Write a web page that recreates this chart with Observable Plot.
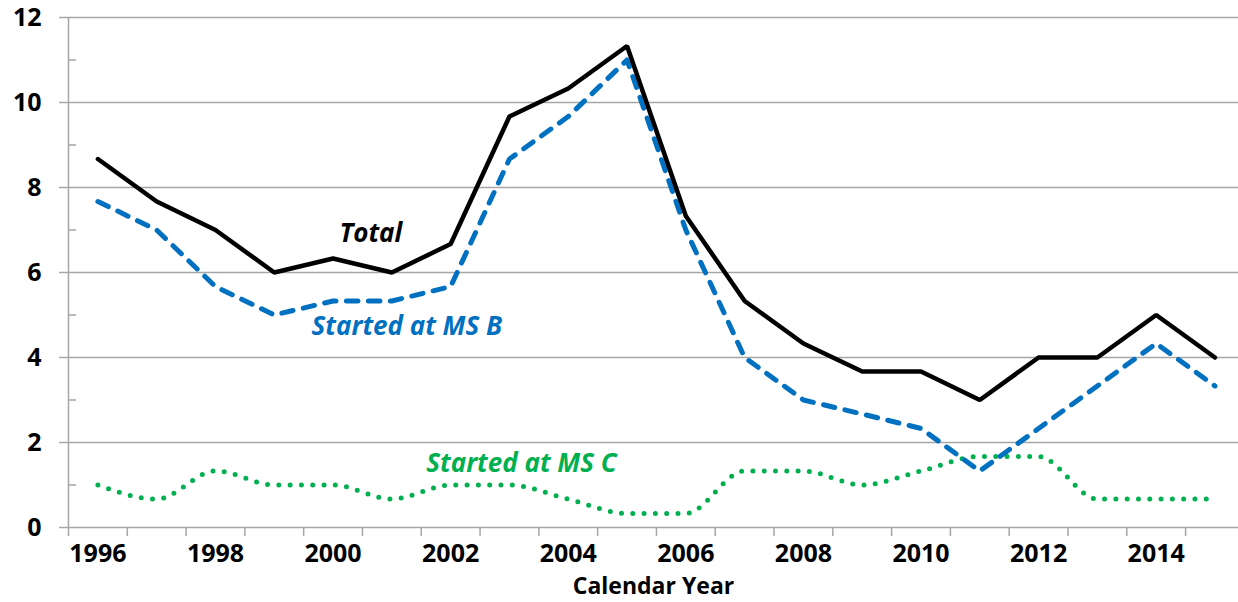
<!DOCTYPE html>
<html><head><meta charset="utf-8">
<script src="https://cdn.jsdelivr.net/npm/d3@7"></script>
<script src="https://cdn.jsdelivr.net/npm/@observablehq/plot@0.6"></script>
<style>
body{margin:0;background:#fff;}
#chart svg{font-family:"Open Sans",sans-serif;font-weight:700;}
</style>
</head><body><div id="chart"></div>
<script>
const years = [1996,1997,1998,1999,2000,2001,2002,2003,2004,2005,2006,2007,2008,2009,2010,2011,2012,2013,2014,2015];
const total = [8.67,7.67,7.0,6.0,6.33,6.0,6.67,9.67,10.33,11.33,7.33,5.33,4.33,3.67,3.67,3.0,4.0,4.0,5.0,4.0];
const msB   = [7.67,7.0,5.67,5.0,5.33,5.33,5.67,8.67,9.67,11.0,7.0,4.0,3.0,2.67,2.33,1.33,2.33,3.33,4.33,3.33];
const msC   = [1.0,0.67,1.33,1.0,1.0,0.67,1.0,1.0,0.67,0.33,0.33,1.33,1.33,1.0,1.33,1.67,1.67,0.67,0.67,0.67];
const yTicks = [0,2,4,6,8,10,12];
const yMinor = [1,3,5,7,9,11];
const xLabelYears = [1996,1998,2000,2002,2004,2006,2008,2010,2012,2014];
const seriesNames = ["Total","Started at MS B","Started at MS C"];
const xTitle = "Calendar Year";

const colors = {"Total":"#000000","Started at MS B":"#0070C0","Started at MS C":"#00B050"};
const toRows = (vals) => years.map((yr,i)=>({year:yr, value:vals[i]}));
const xBoundaries = years.map(y => y - 0.5);

// series labels anchored to a data point
const labelAnchors = [
  {name:"Total", vals: total, year: 2001, dx:-21, dy:-39},
  {name:"Started at MS B", vals: msB, year: 2001, dx:15, dy:26},
  {name:"Started at MS C", vals: msC, year: 2003, dx:12, dy:-21}
];
const labels = labelAnchors.map(a => ({name:a.name, year:a.year, value:a.vals[years.indexOf(a.year)], dx:a.dx, dy:a.dy}));

const gray = "#a6a6a6";
const fsTick = 25;
const fsTitle = 23;
const fsLabel = 26;

const chart = Plot.plot({
  width: 1238,
  height: 602,
  marginLeft: 68,
  marginRight: 0,
  marginTop: 17,
  marginBottom: 75,
  x: {type:"linear", domain:[1995.5, 2015.4]},
  y: {domain:[0,12]},
  marks: [
    Plot.gridY(yTicks, {stroke: gray, strokeOpacity: 1, strokeWidth: 1.5}),
    Plot.ruleX([xBoundaries[0]], {stroke: gray, strokeWidth: 1.5}),
    Plot.axisY(yTicks, {tickSize: 9, tickPadding: 18, stroke: gray, strokeOpacity:1, strokeWidth:1.5, fill: "#000", fontSize: fsTick, fontWeight: 700, label: null}),
    Plot.axisY(yMinor, {tickSize: -8, tickFormat: () => "", stroke: gray, strokeOpacity:1, strokeWidth:1.5, label: null}),
    Plot.axisX(xBoundaries, {tickSize: 9, tickFormat: () => "", stroke: gray, strokeOpacity:1, strokeWidth:1.5, label: null}),
    Plot.axisX(xLabelYears, {tickSize: 0, tickPadding: 17, tickFormat: d => String(d), fill:"#000", fontSize: fsTick, fontWeight: 700, label: null}),
    Plot.text([xTitle], {frameAnchor: "bottom", dy: 66, fill: "#000", fontSize: fsTitle, fontWeight: 700}),
    Plot.line(toRows(msC), {x:"year", y:"value", stroke: colors["Started at MS C"], strokeWidth: 5, strokeDasharray: "0,11.3", strokeLinecap: "round", curve: "monotone-x"}),
    Plot.line(toRows(msB), {x:"year", y:"value", stroke: colors["Started at MS B"], strokeWidth: 5, strokeDasharray: "11.5,10.5", strokeLinecap: "round", strokeLinejoin: "round"}),
    Plot.line(toRows(total), {x:"year", y:"value", stroke: colors["Total"], strokeWidth: 4.5, strokeLinejoin: "miter"}),
    ...labels.map(l => Plot.text([l], {x:"year", y:"value", text:"name", dx:l.dx, dy:l.dy, fill: colors[l.name], fontSize: fsLabel, fontWeight: 700, fontStyle: "italic"}))
  ]
});
document.getElementById("chart").appendChild(chart);
</script>
</body></html>
